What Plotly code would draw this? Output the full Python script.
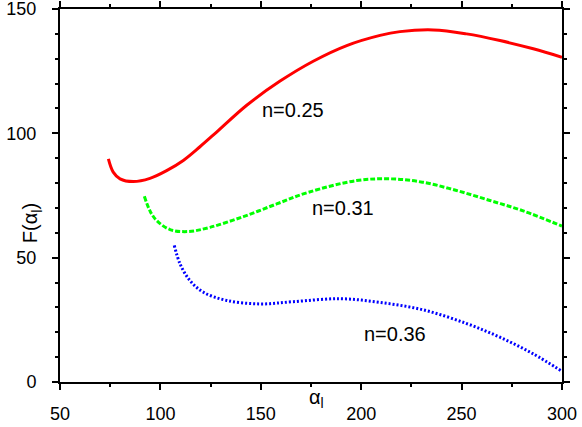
import plotly.graph_objects as go

# n = 0.25
x_025 = [74.1, 76.5, 79.9, 86.5, 94.8, 103.1, 111.4, 119.7, 128.0, 143.0, 159.6, 176.1,
         192.8, 209.4, 219.3, 235.9, 252.5, 269.1, 285.7, 300]
y_025 = [89.7, 84.4, 81.7, 80.6, 81.9, 85.0, 89.1, 94.6, 100.5, 111.3, 121.0, 129.0,
         135.3, 139.4, 140.9, 141.6, 140.0, 137.3, 134.0, 130.6]

# n = 0.31
x_031 = [92, 95, 98.2, 104.8, 113.9, 124.7, 141.3, 157.9, 173.7, 197.7, 214.3,
         230.9, 247.5, 264.1, 280.7, 300]
y_031 = [74.7, 68.5, 64.9, 61.3, 60.5, 62.2, 66.5, 71.6, 76.3, 81.0, 81.7,
         80.3, 77.0, 73.0, 68.8, 62.7]

# n = 0.36
x_036 = [106.9, 109.8, 114.7, 121.4, 133.0, 149.6, 166.2, 189.4, 209.4, 230.9, 252.5,
         269.1, 285.7, 300]
y_036 = [54.9, 47.5, 40.8, 36.1, 32.8, 31.4, 32.3, 33.5, 32.0, 29.0, 23.5,
         18.0, 11.3, 4.3]

labels = ["n=0.25", "n=0.31", "n=0.36"]
label_x = [166.2, 191.1, 216.8]
label_y = [109.4, 69.9, 19.4]

FONT = "Liberation Sans, Arial, sans-serif"

fig = go.Figure()
fig.add_trace(go.Scatter(x=x_025, y=y_025, mode="lines", line_shape="spline",
                         line=dict(color="#ff0000", width=3)))
fig.add_trace(go.Scatter(x=x_031, y=y_031, mode="lines", line_shape="spline",
                         line=dict(color="#00ff00", width=3, dash="5px,2px")))
fig.add_trace(go.Scatter(x=x_036, y=y_036, mode="lines", line_shape="spline",
                         line=dict(color="#0000ff", width=3, dash="2px,2px")))

for t, lx, ly in zip(labels, label_x, label_y):
    fig.add_annotation(x=lx, y=ly, xref="x", yref="y", text=t, showarrow=False,
                       font=dict(size=20, color="black", family=FONT))

# axis titles
fig.add_annotation(x=177.5, y=-0.084, xref="x", yref="paper", text="α<sub>l</sub>",
                   showarrow=False, font=dict(size=20, color="black", family=FONT))
fig.add_annotation(x=-0.084, y=64, xref="paper", yref="y", text="F(α<sub>l</sub>)",
                   textangle=-90, showarrow=False,
                   font=dict(size=20, color="black", family=FONT))

axis_common = dict(showline=True, linecolor="black", linewidth=2, mirror="allticks",
                   ticks="outside", ticklen=6, tickwidth=1.5, tickcolor="black",
                   showgrid=False, zeroline=False, automargin=False,
                   ticklabeloverflow="allow",
                   tickfont=dict(size=18, color="black", family=FONT))

fig.update_xaxes(range=[50, 300], tick0=50, dtick=50, ticklabelstandoff=8,
                 minor=dict(ticks="outside", dtick=25, ticklen=3, tickwidth=1.5,
                            tickcolor="black"),
                 **axis_common)
fig.update_yaxes(range=[0, 150], tick0=0, dtick=50, ticklabelstandoff=12,
                 minor=dict(ticks="outside", dtick=10, ticklen=3, tickwidth=1.5,
                            tickcolor="black"),
                 **axis_common)

fig.update_layout(width=582, height=427, showlegend=False,
                  margin=dict(l=60, r=20, t=9, b=45),
                  plot_bgcolor="white", paper_bgcolor="white")

# page body has a default margin; drop it so the figure sits at the corner
fig.write_html("out.html", config={"displayModeBar": False},
               post_script="document.body.style.margin='0';")
